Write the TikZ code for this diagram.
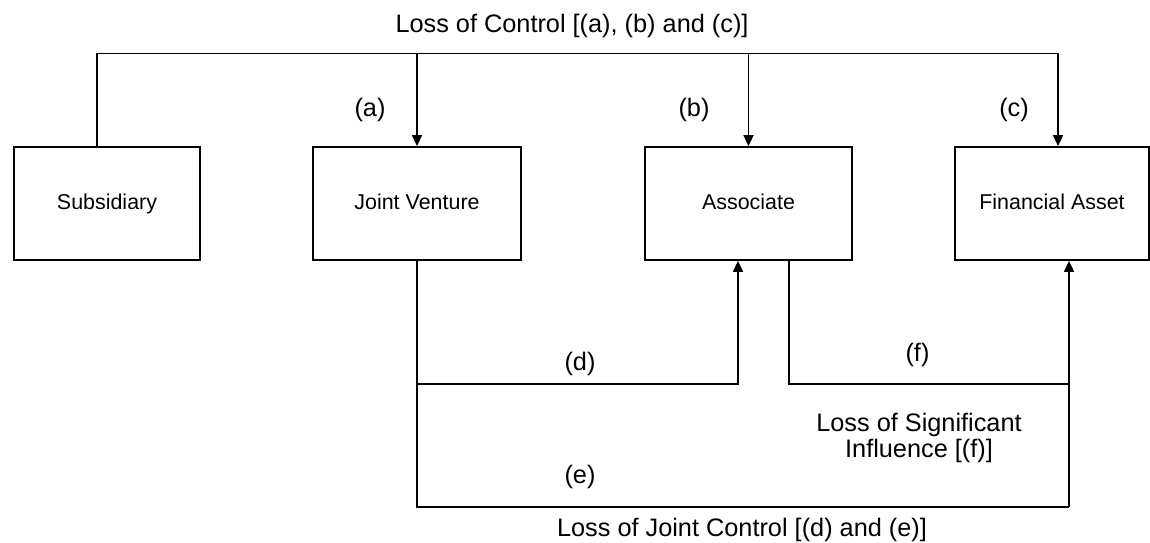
\documentclass[tikz,border=0pt]{standalone}
\usepackage{fontspec}
\setmainfont{Liberation Sans}
\usetikzlibrary{arrows.meta}

\begin{document}
\begin{tikzpicture}[x=1cm,y=1cm,
  entity/.style={draw,line width=1pt,minimum height=2.26cm,inner sep=0pt,
    text height=1.6ex,text depth=0.3ex,font=\fontsize{12.2}{14}\selectfont},
  conn/.style={line width=0.95pt},
  flow/.style={conn,-{Triangle[length=0.22cm,width=0.2cm]}},
  caption/.style={inner sep=0pt,font=\fontsize{14.4}{14.8}\selectfont}]
\path[use as bounding box] (0,0) rectangle (23.00,10.86);
% boxes
\node[entity,minimum width=3.72cm] (sub) at (2.14,6.79) {Subsidiary};
\node[entity,minimum width=4.16cm] (jv) at (8.34,6.79) {Joint Venture};
\node[entity,minimum width=4.14cm] (assoc) at (14.97,6.79) {Associate};
\node[entity,minimum width=3.88cm] (fin) at (21.04,6.79) {Financial Asset};
% loss of control
\coordinate (topl) at (1.94,9.79);
\coordinate (topr) at (21.16,9.79);
\draw[conn] (topl |- sub.north) -- (topl) -- (topr);
\draw[flow] (jv.north |- topl) -- (jv.north);
\draw[flow] (assoc.north |- topl) -- (assoc.north);
\draw[flow] (topr) -- (topr |- fin.north);
\node[caption] (lctrl) at (11.44,10.34) {Loss of Control [(a), (b) and (c)]};
\node[caption] (la) at (7.40,8.66) {(a)};
\node[caption] (lb) at (13.88,8.66) {(b)};
\node[caption] (lc) at (20.28,8.66) {(c)};
% loss of joint control / significant influence
\coordinate (djoin) at (8.34,3.18);
\coordinate (ejoin) at (8.34,0.72);
\coordinate (dup) at (14.76,3.18);
\coordinate (fdown) at (15.78,3.18);
\coordinate (fup) at (21.38,0.72);
\draw[conn] (jv.south) -- (ejoin) -- (fup);
\draw[flow] (djoin) -- (dup) -- (dup |- assoc.south);
\draw[conn] (fdown |- assoc.south) -- (fdown) -- (fup |- fdown);
\draw[flow] (fup) -- (fup |- fin.south);
\node[caption] (ld) at (11.60,3.58) {(d)};
\node[caption] (le) at (11.60,1.33) {(e)};
\node[caption] (lf) at (18.35,3.76) {(f)};
\node[caption,align=center] (lsig) at (18.38,2.10) {Loss of Significant\\Influence [(f)]};
\node[caption] (ljc) at (14.84,0.27) {Loss of Joint Control [(d) and (e)]};
\end{tikzpicture}
\end{document}
